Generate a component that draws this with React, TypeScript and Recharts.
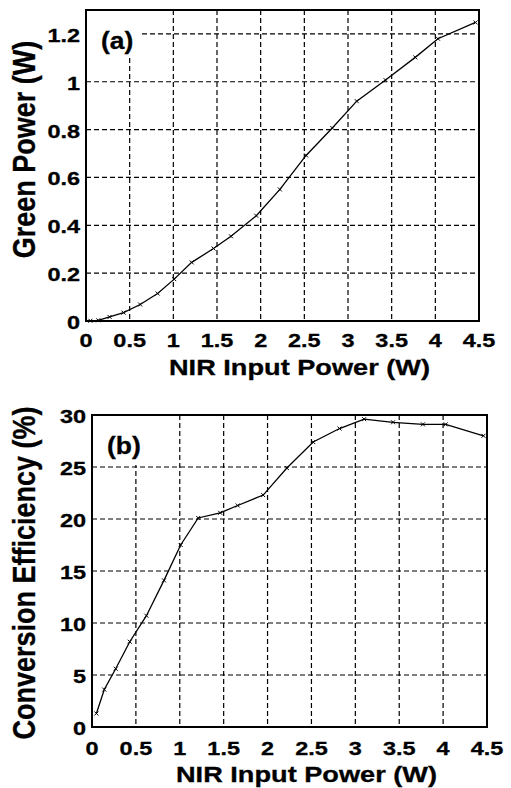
import {
  CartesianGrid,
  Line,
  LineChart,
  ReferenceArea,
  XAxis,
  YAxis,
} from "recharts";

// NIR pump power (W) at each measured point
const nirPower = [
  0.05, 0.14, 0.27, 0.43, 0.62, 0.82, 1.01, 1.21, 1.46, 1.66, 1.95, 2.22,
  2.52, 2.82, 3.1, 3.43, 3.77, 4.03, 4.46,
];

// green output power (W)
const greenPower = [
  0.001, 0.003, 0.017, 0.035, 0.069, 0.115, 0.175, 0.245, 0.303, 0.354, 0.44,
  0.55, 0.692, 0.807, 0.919, 1.007, 1.102, 1.18, 1.248,
];

// conversion efficiency (%)
const efficiency = [
  1.3, 3.6, 5.6, 8.2, 10.7, 14.1, 17.5, 20.1, 20.6, 21.3, 22.3, 24.9, 27.4,
  28.7, 29.6, 29.3, 29.1, 29.1, 28.0,
];

const xTicks = [0, 0.5, 1, 1.5, 2, 2.5, 3, 3.5, 4, 4.5];
const greenTicks = [0, 0.2, 0.4, 0.6, 0.8, 1, 1.2];
const efficiencyTicks = [0, 5, 10, 15, 20, 25, 30];

const greenData = nirPower.map((x, i) => ({ x, y: greenPower[i] }));
const efficiencyData = nirPower.map((x, i) => ({ x, y: efficiency[i] }));

const FONT = '"Liberation Sans", Arial, Helvetica, sans-serif';
const WIDE = 1.235;

type TextProps = {
  x: number;
  y: number;
  size: number;
  anchor: "start" | "middle" | "end";
  sx?: number;
  rotate?: boolean;
  children: string;
};

// bold text, stretched horizontally
function WideText({ x, y, size, anchor, sx = WIDE, rotate, children }: TextProps) {
  return (
    <text
      transform={`translate(${x} ${y}) scale(${sx} 1)${rotate ? " rotate(-90)" : ""}`}
      textAnchor={anchor}
      fontFamily={FONT}
      fontWeight="bold"
      fontSize={size}
      fill="#000"
      stroke="#000"
      strokeWidth={0.3}
    >
      {children}
    </text>
  );
}

const makeXTick = (dy: number) => (props: any) => {
  const { x, y, payload } = props;
  return (
    <WideText x={x} y={y + dy} size={19} anchor="middle">
      {String(payload.value)}
    </WideText>
  );
};

const YTick = (props: any) => {
  const { x, y, payload } = props;
  return (
    <WideText x={x - 6} y={y + 8} size={19} anchor="end">
      {String(payload.value)}
    </WideText>
  );
};

const Cross = (props: any) => {
  const { cx, cy, index } = props;
  if (cx == null || cy == null) return <g key={index} />;
  return (
    <path
      key={index}
      d={`M${cx - 2},${cy - 2}L${cx + 2},${cy + 2}M${cx - 2},${cy + 2}L${cx + 2},${cy - 2}`}
      stroke="#000"
      strokeWidth={1}
    />
  );
};

type PanelProps = {
  data: { x: number; y: number }[];
  yTicks: number[];
  yMax: number;
  yLabel: string;
  yLabelDy: number;
  tag: string;
  tagBox: [number, number];
  margin: { top: number; right: number; left: number; bottom: number };
  xAxisHeight: number;
  xTickDy: number;
  xLabelDy: number;
};

function Panel({
  data,
  yTicks,
  yMax,
  yLabel,
  yLabelDy,
  tag,
  tagBox,
  margin,
  xAxisHeight,
  xTickDy,
  xLabelDy,
}: PanelProps) {
  return (
    <LineChart width={511} height={394} data={data} margin={margin}>
      <CartesianGrid stroke="#000" strokeDasharray="5 3" strokeWidth={1.2} />
      <XAxis
        dataKey="x"
        type="number"
        domain={[0, 4.5]}
        ticks={xTicks}
        axisLine={false}
        tickLine={false}
        tickSize={0}
        tickMargin={0}
        height={xAxisHeight}
        interval={0}
        tick={makeXTick(xTickDy)}
        label={{
          content: (p: any) => {
            const vb = p.viewBox;
            return (
              <WideText x={vb.x + vb.width / 2 + 17} y={vb.y + xLabelDy} size={22} anchor="middle">
                NIR Input Power (W)
              </WideText>
            );
          },
        }}
      />
      <YAxis
        type="number"
        domain={[0, yMax]}
        ticks={yTicks}
        axisLine={false}
        tickLine={false}
        tickSize={0}
        tickMargin={0}
        width={60}
        interval={0}
        tick={YTick}
        label={{
          content: (p: any) => {
            const vb = p.viewBox;
            return (
              <WideText
                x={35}
                y={vb.y + vb.height / 2 + yLabelDy}
                size={27}
                sx={1.14}
                anchor="middle"
                rotate
              >
                {yLabel}
              </WideText>
            );
          },
        }}
      />
      {/* white patch behind the panel tag */}
      <ReferenceArea
        x1={0}
        x2={tagBox[0]}
        y1={tagBox[1]}
        y2={yMax}
        fill="#fff"
        fillOpacity={1}
        stroke="none"
        label={{
          content: (p: any) => {
            const vb = p.viewBox;
            return (
              <WideText x={vb.x + 15} y={vb.y + 39} size={23} sx={1.15} anchor="start">
                {tag}
              </WideText>
            );
          },
        }}
      />
      {/* frame */}
      <ReferenceArea
        x1={0}
        x2={4.5}
        y1={0}
        y2={yMax}
        fill="none"
        stroke="#000"
        strokeWidth={2}
      />
      <Line
        dataKey="y"
        type="linear"
        stroke="#000"
        strokeWidth={1.3}
        dot={Cross}
        activeDot={false}
        isAnimationActive={false}
      />
    </LineChart>
  );
}

export default function App() {
  return (
    <div
      style={{
        position: "absolute",
        left: 0,
        top: 0,
        width: 511,
        height: 788,
        background: "#fff",
      }}
    >
      <Panel
        data={greenData}
        yTicks={greenTicks}
        yMax={1.3}
        yLabel="Green Power (W)"
        yLabelDy={-16}
        tag="(a)"
        tagBox={[0.63, 1.1]}
        margin={{ top: 10, right: 32, left: 26, bottom: 0 }}
        xAxisHeight={73}
        xTickDy={26}
        xLabelDy={54}
      />
      <Panel
        data={efficiencyData}
        yTicks={efficiencyTicks}
        yMax={30}
        yLabel="Conversion Efficiency (%)"
        yLabelDy={2}
        tag="(b)"
        tagBox={[0.56, 25.2]}
        margin={{ top: 21, right: 24, left: 32, bottom: 0 }}
        xAxisHeight={61}
        xTickDy={28}
        xLabelDy={55}
      />
    </div>
  );
}
